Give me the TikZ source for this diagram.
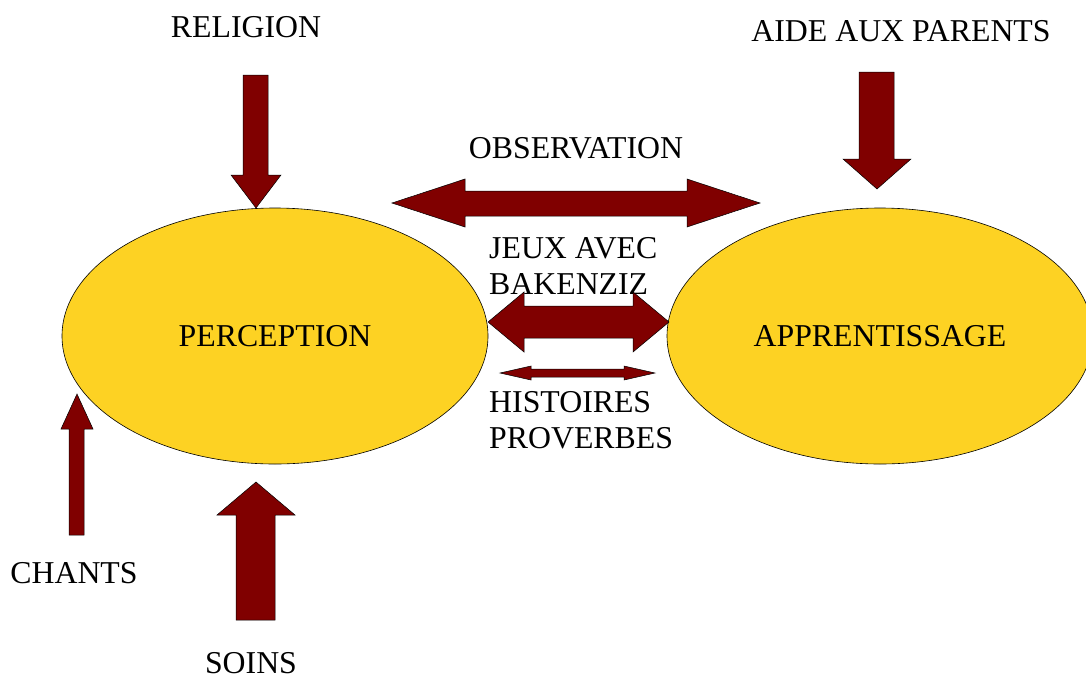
\documentclass[tikz,border=0pt]{standalone}
\usepackage{fontspec}
\setmainfont{Liberation Serif}
\usepackage{tikz}
\usetikzlibrary{shapes.geometric}

\definecolor{darkred}{RGB}{128,0,0}
\definecolor{sunyellow}{RGB}{253,210,35}

\tikzset{
	label text/.style = {inner sep=0pt, font=\fontsize{31.8}{36}\selectfont},
	blob/.style = {ellipse, draw=black, line width=0.6pt, fill=sunyellow,
		minimum width=426pt, minimum height=256pt, inner sep=0pt,
		font=\fontsize{31.8}{36}\selectfont},
	blockarrow/.style = {fill=darkred, draw=black, line width=0.5pt, line join=miter}
}

\begin{document}
\begin{tikzpicture}[x=1pt,y=-1pt]
		\useasboundingbox (0,0) rectangle (1086,678);
		
		% the two ellipses
		\node[blob] (perception) at (275,336) {PERCEPTION};
		\node[blob] (apprentissage) at (880,336) {APPRENTISSAGE};
		
		% texts
		\node[label text] (religion) at (246,27) {RELIGION};
		\node[label text] (aide) at (901,31) {AIDE AUX PARENTS};
		\node[label text] (observation) at (576,148) {OBSERVATION};
		\node[label text, align=left, anchor=north west] (jeux) at (489,237) {JEUX AVEC\\BAKENZIZ};
		\node[label text, align=left, anchor=north west] (histoires) at (489,391) {HISTOIRES\\PROVERBES};
		\node[label text] (chants) at (74,573) {CHANTS};
		\node[label text] (soins) at (251,663) {SOINS};
		
		% arrows down
		\draw[blockarrow] (243,75) -- (268,75) -- (268,175) -- (281,175) -- (256,208)
			-- (231,175) -- (243,175) -- cycle;
		\draw[blockarrow] (859,72) -- (894,72) -- (894,159) -- (911,159) -- (877,189)
			-- (843,159) -- (859,159) -- cycle;
		
		% arrows up
		\draw[blockarrow] (69,535) -- (84,535) -- (84,429) -- (93,429) -- (77,394)
			-- (61,429) -- (69,429) -- cycle;
		\draw[blockarrow] (236,620) -- (275,620) -- (275,515) -- (295,515) -- (256,482)
			-- (217,515) -- (236,515) -- cycle;
		
		% double arrows between the ellipses
		\draw[blockarrow] (392,203) -- (465,179) -- (465,191) -- (687,191) -- (687,179)
			-- (760,203) -- (687,227) -- (687,216) -- (465,216) -- (465,227) -- cycle;
		\draw[blockarrow] (488,322) -- (524,292) -- (524,306) -- (633,306) -- (633,292)
			-- (669,322) -- (633,352) -- (633,338) -- (524,338) -- (524,352) -- cycle;
		\draw[blockarrow] (500,373) -- (531,366) -- (531,369) -- (624,369) -- (624,366)
			-- (655,373) -- (624,380) -- (624,377) -- (531,377) -- (531,380) -- cycle;
		
\end{tikzpicture}
\end{document}
